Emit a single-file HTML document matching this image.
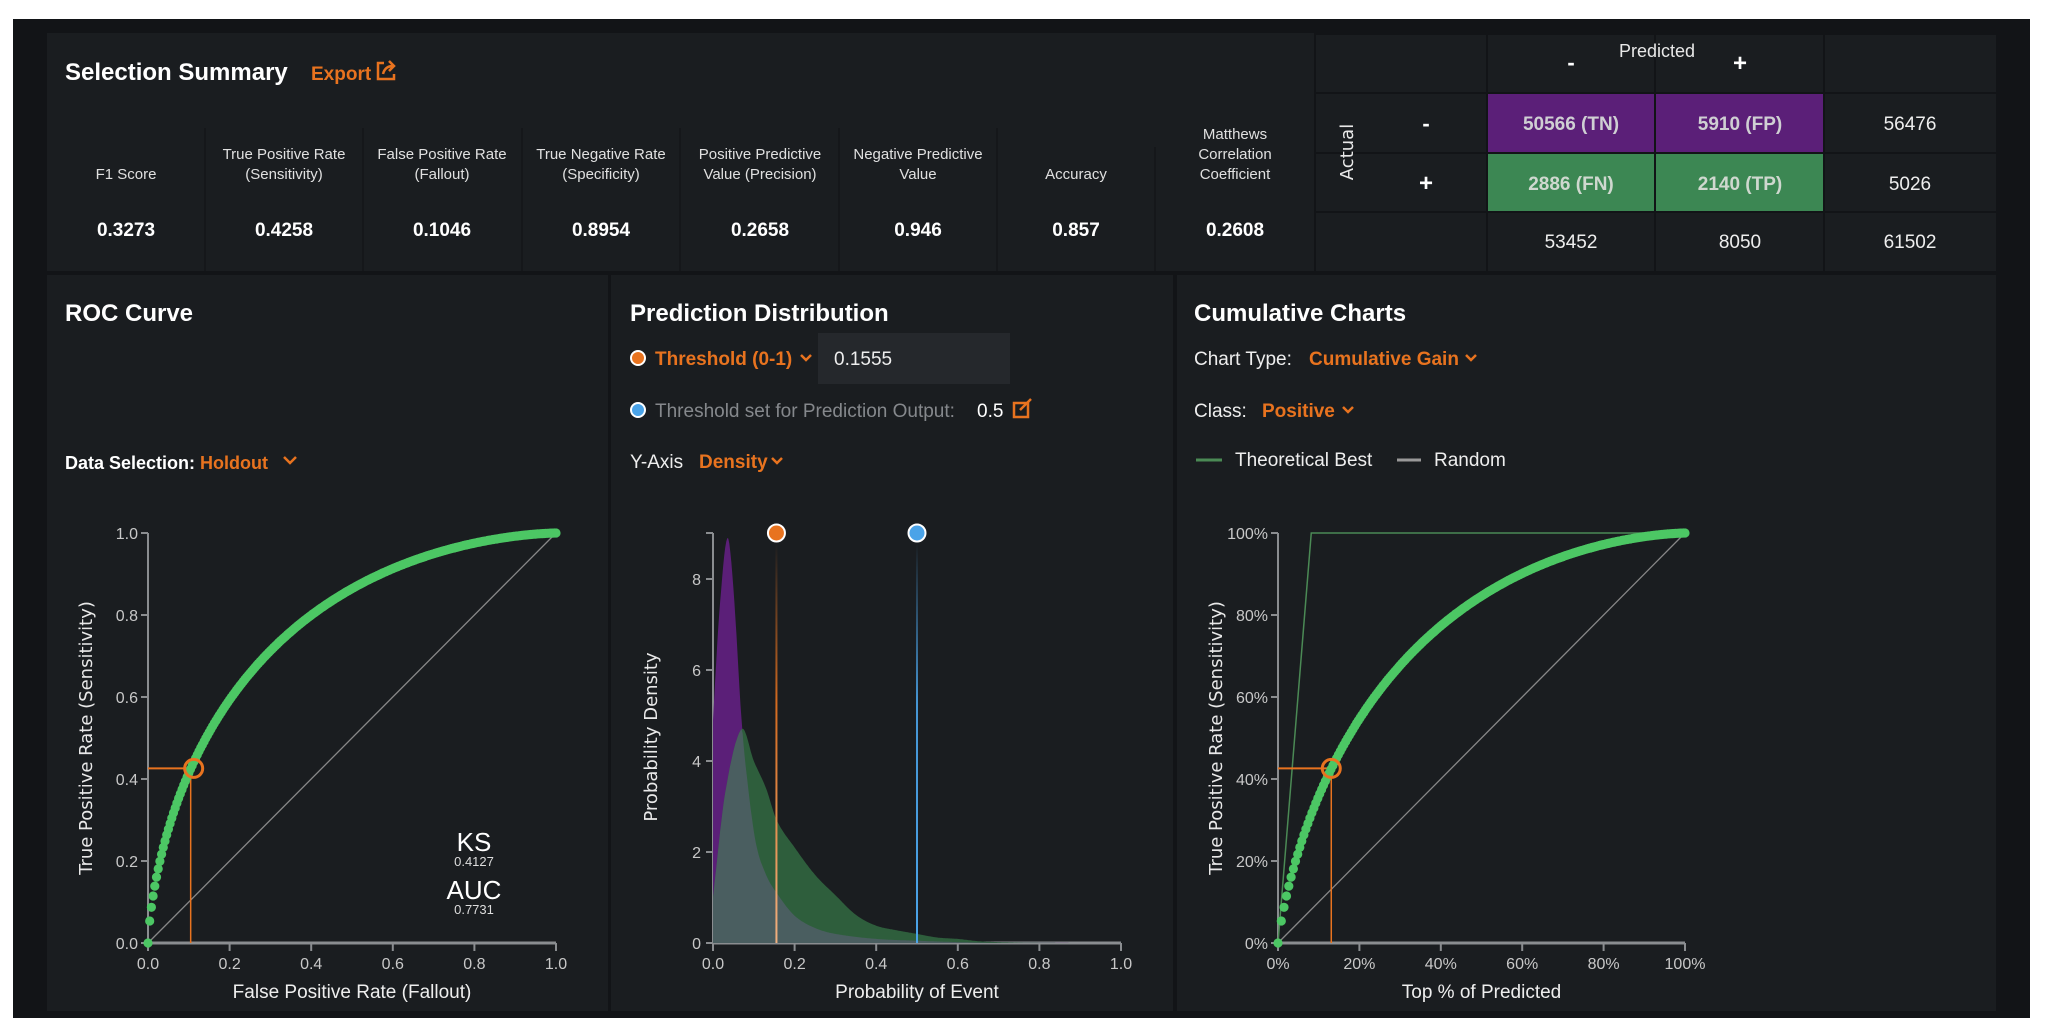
<!DOCTYPE html>
<html><head><meta charset="utf-8"><style>
html,body{margin:0;padding:0;background:#fff;}
svg{display:block;font-family:"Liberation Sans",sans-serif;}
</style></head><body>
<svg id="s" width="2048" height="1036" xmlns="http://www.w3.org/2000/svg">
<defs>
<linearGradient id="go" x1="0" y1="0" x2="0" y2="1"><stop offset="0" stop-color="#e8731f" stop-opacity="0"/><stop offset="0.4" stop-color="#e8731f" stop-opacity="0.9"/><stop offset="1" stop-color="#f0b080"/></linearGradient>
<linearGradient id="gb" x1="0" y1="0" x2="0" y2="1"><stop offset="0" stop-color="#4aa3e8" stop-opacity="0"/><stop offset="0.4" stop-color="#4aa3e8" stop-opacity="0.9"/><stop offset="1" stop-color="#4aa3e8"/></linearGradient>
</defs>
<rect x="0" y="0" width="2048" height="1036" fill="#fff"/>
<rect x="13" y="19" width="2017" height="999" fill="#121417"/>
<rect x="47" y="33" width="1267" height="238" fill="#1a1d20"/>
<rect x="1316" y="35" width="680" height="236" fill="#1a1d20"/>
<rect x="47" y="275" width="561" height="736" fill="#1a1d20"/>
<rect x="611" y="275" width="562" height="736" fill="#1a1d20"/>
<rect x="1177" y="275" width="819" height="736" fill="#1a1d20"/>

<text x="65" y="80" font-size="24" font-weight="bold" fill="#fff">Selection Summary</text>
<text x="311" y="80" font-size="19" font-weight="bold" fill="#e8731f">Export</text>
<g fill="none" stroke="#e8731f" stroke-width="2.5"><path d="M384 63 h-6 v16 h16 v-5"/><path d="M383 74 q2 -8 10 -8 M389 61 l5 5 l-5 5"/></g>

<g stroke="#15171a" stroke-width="2">
<line x1="205" y1="128" x2="205" y2="271"/><line x1="363" y1="128" x2="363" y2="271"/><line x1="522" y1="128" x2="522" y2="271"/><line x1="680" y1="128" x2="680" y2="271"/><line x1="839" y1="128" x2="839" y2="271"/><line x1="997" y1="128" x2="997" y2="271"/><line x1="1155" y1="147" x2="1155" y2="271"/>
</g>
<g font-size="15" fill="#e0e0e0" text-anchor="middle">
<text x="126" y="179">F1 Score</text>
<text x="284" y="159">True Positive Rate</text><text x="284" y="179">(Sensitivity)</text>
<text x="442" y="159">False Positive Rate</text><text x="442" y="179">(Fallout)</text>
<text x="601" y="159">True Negative Rate</text><text x="601" y="179">(Specificity)</text>
<text x="760" y="159">Positive Predictive</text><text x="760" y="179">Value (Precision)</text>
<text x="918" y="159">Negative Predictive</text><text x="918" y="179">Value</text>
<text x="1076" y="179">Accuracy</text>
<text x="1235" y="139">Matthews</text><text x="1235" y="159">Correlation</text><text x="1235" y="179">Coefficient</text>
</g>
<g font-size="19" font-weight="bold" fill="#fff" text-anchor="middle">
<text x="126" y="236">0.3273</text><text x="284" y="236">0.4258</text><text x="442" y="236">0.1046</text><text x="601" y="236">0.8954</text><text x="760" y="236">0.2658</text><text x="918" y="236">0.946</text><text x="1076" y="236">0.857</text><text x="1235" y="236">0.2608</text>
</g>

<rect x="1487" y="93" width="337" height="60" fill="#5b1f78"/>
<rect x="1487" y="153" width="337" height="59" fill="#3c8753"/>
<g stroke="#121417" stroke-width="2">
<line x1="1316" y1="93" x2="1996" y2="93"/><line x1="1316" y1="153" x2="1996" y2="153"/><line x1="1316" y1="212" x2="1996" y2="212"/>
<line x1="1487" y1="35" x2="1487" y2="271"/><line x1="1655" y1="35" x2="1655" y2="271"/><line x1="1824" y1="35" x2="1824" y2="271"/>
</g>
<text x="1657" y="57" font-size="18" fill="#e8e8e8" text-anchor="middle">Predicted</text>
<text x="1571" y="70" font-size="22" font-weight="bold" fill="#fff" text-anchor="middle">-</text>
<text x="1740" y="71" font-size="24" font-weight="bold" fill="#fff" text-anchor="middle">+</text>
<text transform="translate(1353,152) rotate(-90)" font-family="DejaVu Sans,sans-serif" font-size="18" fill="#e8e8e8" text-anchor="middle">Actual</text>
<text x="1426" y="131" font-size="22" font-weight="bold" fill="#fff" text-anchor="middle">-</text>
<text x="1426" y="191" font-size="24" font-weight="bold" fill="#fff" text-anchor="middle">+</text>
<g font-size="19" text-anchor="middle">
<text x="1571" y="130" font-weight="bold" fill="#cfcfd3">50566 (TN)</text>
<text x="1740" y="130" font-weight="bold" fill="#cfcfd3">5910 (FP)</text>
<text x="1571" y="190" font-weight="bold" fill="#cfd8cf">2886 (FN)</text>
<text x="1740" y="190" font-weight="bold" fill="#cfd8cf">2140 (TP)</text>
<text x="1910" y="130" fill="#eee">56476</text><text x="1910" y="190" fill="#eee">5026</text>
<text x="1571" y="248" fill="#eee">53452</text><text x="1740" y="248" fill="#eee">8050</text><text x="1910" y="248" fill="#eee">61502</text>
</g>

<text x="65" y="321" font-size="24" font-weight="bold" fill="#fff">ROC Curve</text>
<text x="65" y="469" font-size="18" font-weight="bold" fill="#fff">Data Selection: <tspan fill="#e8731f">Holdout</tspan></text>
<path d="M284 457 l6 6 l6 -6" fill="none" stroke="#e8731f" stroke-width="2.5"/>

<text x="630" y="321" font-size="24" font-weight="bold" fill="#fff">Prediction Distribution</text>
<circle cx="638" cy="358" r="7" fill="#e8731f" stroke="#fff" stroke-width="2"/>
<text x="655" y="365" font-size="19" font-weight="bold" fill="#e8731f">Threshold (0-1)</text>
<path d="M801 355 l5 5 l5 -5" fill="none" stroke="#e8731f" stroke-width="2.5"/>
<rect x="818" y="333" width="192" height="51" fill="#25282c"/>
<text x="834" y="365" font-size="19" fill="#eee">0.1555</text>
<circle cx="638" cy="410" r="7" fill="#4aa3e8" stroke="#fff" stroke-width="2"/>
<text x="655" y="417" font-size="19" fill="#85888c">Threshold set for Prediction Output:</text>
<text x="977" y="417" font-size="19" fill="#fff">0.5</text>
<g fill="none" stroke="#e8731f" stroke-width="2.5"><rect x="1014" y="403" width="14" height="14"/><path d="M1020 410 l11 -11"/></g>
<text x="630" y="468" font-size="19" fill="#eee">Y-Axis</text>
<text x="699" y="468" font-size="19" font-weight="bold" fill="#e8731f">Density</text>
<path d="M772 458 l5 5 l5 -5" fill="none" stroke="#e8731f" stroke-width="2.5"/>

<text x="1194" y="321" font-size="24" font-weight="bold" fill="#fff">Cumulative Charts</text>
<text x="1194" y="365" font-size="19" fill="#eee">Chart Type:</text>
<text x="1309" y="365" font-size="19" font-weight="bold" fill="#e8731f">Cumulative Gain</text>
<path d="M1466 355 l5 5 l5 -5" fill="none" stroke="#e8731f" stroke-width="2.5"/>
<text x="1194" y="417" font-size="19" fill="#eee">Class:</text>
<text x="1262" y="417" font-size="19" font-weight="bold" fill="#e8731f">Positive</text>
<path d="M1343 407 l5 5 l5 -5" fill="none" stroke="#e8731f" stroke-width="2.5"/>
<line x1="1196" y1="460" x2="1222" y2="460" stroke="#4b8a55" stroke-width="3"/>
<text x="1235" y="466" font-size="19" fill="#eee">Theoretical Best</text>
<line x1="1397" y1="460" x2="1421" y2="460" stroke="#999" stroke-width="3"/>
<text x="1434" y="466" font-size="19" fill="#eee">Random</text>

<g id="charts"></g>
</svg>
<script>
(function(){
var NS="http://www.w3.org/2000/svg",g=document.getElementById("charts");
function el(t,a,txt){var e=document.createElementNS(NS,t);for(var k in a)e.setAttribute(k,a[k]);if(txt!=null)e.textContent=txt;g.appendChild(e);return e;}
function interp(pts,x){for(var i=0;i<pts.length-1;i++){if(x<=pts[i+1][0]){var a=pts[i],b=pts[i+1],t=(x-a[0])/(b[0]-a[0]);
 var p0=pts[Math.max(0,i-1)],p3=pts[Math.min(pts.length-1,i+2)];
 var m1=(b[1]-p0[1])/(b[0]-p0[0]||1)*(b[0]-a[0]),m2=(p3[1]-a[1])/(p3[0]-a[0]||1)*(b[0]-a[0]);
 var t2=t*t,t3=t2*t;return (2*t3-3*t2+1)*a[1]+(t3-2*t2+t)*m1+(-2*t3+3*t2)*b[1]+(t3-t2)*m2;}}return pts[pts.length-1][1];}
function erf(x){var s=x<0?-1:1;x=Math.abs(x);var t=1/(1+0.3275911*x);var y=1-(((((1.061405429*t-1.453152027)*t)+1.421413741)*t-0.284496736)*t+0.254829592)*t*Math.exp(-x*x);return s*y;}
function Phi(z){return 0.5*(1+erf(z/Math.SQRT2));}
function Pinv(p){var lo=-8,hi=8;for(var i=0;i<60;i++){var m=(lo+hi)/2;if(Phi(m)<p)lo=m;else hi=m;}return (lo+hi)/2;}
function rocf(f){if(f<=0)return 0;if(f>=1)return 1;return Phi(1.10+1.027*Pinv(f));}
var Y0=943,Y1=533,H=Y0-Y1;
function axes(x0,x1,lab,fmt,yfmt,ylab){
 el("line",{x1:x0,y1:Y1,x2:x0,y2:Y0,stroke:"#8a8d90","stroke-width":2});
 el("line",{x1:x0,y1:Y0,x2:x1,y2:Y0,stroke:"#8a8d90","stroke-width":3});
 for(var i=0;i<=5;i++){var v=i/5,x=x0+(x1-x0)*v,y=Y0-H*v;
  el("line",{x1:x,y1:Y0,x2:x,y2:Y0+8,stroke:"#8a8d90","stroke-width":2});
  el("text",{x:x,y:Y0+26,"font-size":16,fill:"#c8c8c8","text-anchor":"middle"},fmt(v));
  el("line",{x1:x0-7,y1:y,x2:x0,y2:y,stroke:"#8a8d90","stroke-width":2});
  el("text",{x:x0-10,y:y+6,"font-size":16,fill:"#c8c8c8","text-anchor":"end"},yfmt(v));}
 el("text",{x:(x0+x1)/2,y:Y0+55,"font-size":19,fill:"#eee","text-anchor":"middle"},lab);
 el("text",{transform:"translate("+(x0-56)+","+((Y0+Y1)/2)+") rotate(-90)","font-family":"DejaVu Sans,sans-serif","font-size":18,fill:"#e8e8e8","text-anchor":"middle"},ylab);
}
function dots(mapx,x0,x1){for(var i=0;i<=240;i++){var f=i/240,t=rocf(f);var px=x0+(x1-x0)*mapx(f,t),py=Y0-H*t;
 el("circle",{cx:px.toFixed(1),cy:py.toFixed(1),r:4.6,fill:"#4cc764"});}}
var rx0=148,rx1=556;
axes(rx0,rx1,"False Positive Rate (Fallout)",function(v){return v.toFixed(1)},function(v){return v.toFixed(1)},"True Positive Rate (Sensitivity)");
el("line",{x1:rx0,y1:Y0,x2:rx1,y2:Y1,stroke:"#888","stroke-width":1.3});
var tx=rx0+(rx1-rx0)*0.1046,ty=Y0-H*0.4258;
el("line",{x1:tx,y1:ty,x2:tx,y2:Y0,stroke:"#e8731f","stroke-width":1.5});
el("line",{x1:rx0,y1:ty,x2:tx,y2:ty,stroke:"#e8731f","stroke-width":2});
dots(function(f,t){return f},rx0,rx1);
el("circle",{cx:tx+3,cy:ty,r:9,fill:"none",stroke:"#e8731f","stroke-width":3});
el("text",{x:474,y:851,"font-size":26,fill:"#fff","text-anchor":"middle"},"KS");
el("text",{x:474,y:866,"font-size":13,fill:"#ddd","text-anchor":"middle"},"0.4127");
el("text",{x:474,y:899,"font-size":26,fill:"#fff","text-anchor":"middle"},"AUC");
el("text",{x:474,y:914,"font-size":13,fill:"#ddd","text-anchor":"middle"},"0.7731");
var dx0=713,dx1=1121,DS=45.5;
el("line",{x1:dx0,y1:Y1,x2:dx0,y2:Y0,stroke:"#8a8d90","stroke-width":2});
el("line",{x1:dx0-7,y1:Y1,x2:dx0,y2:Y1,stroke:"#8a8d90","stroke-width":2});
el("line",{x1:dx0,y1:Y0,x2:dx1,y2:Y0,stroke:"#8a8d90","stroke-width":3});
for(var i=0;i<=5;i++){var x=dx0+(dx1-dx0)*i/5;el("line",{x1:x,y1:Y0,x2:x,y2:Y0+8,stroke:"#8a8d90","stroke-width":2});
 el("text",{x:x,y:Y0+26,"font-size":16,fill:"#c8c8c8","text-anchor":"middle"},(i/5).toFixed(1));}
for(var v=0;v<=8;v+=2){var y=Y0-DS*v;el("line",{x1:dx0-7,y1:y,x2:dx0,y2:y,stroke:"#8a8d90","stroke-width":2});
 el("text",{x:dx0-12,y:y+6,"font-size":16,fill:"#c8c8c8","text-anchor":"end"},v);}
el("text",{x:(dx0+dx1)/2,y:Y0+55,"font-size":19,fill:"#eee","text-anchor":"middle"},"Probability of Event");
el("text",{transform:"translate(657,737) rotate(-90)","font-family":"DejaVu Sans,sans-serif","font-size":18,fill:"#e8e8e8","text-anchor":"middle"},"Probability Density");
var pur=[[0,4.9],[0.015,7.2],[0.035,8.9],[0.05,7.8],[0.07,4.9],[0.085,3.5],[0.105,2.2],[0.13,1.5],[0.156,1.1],[0.2,0.6],[0.25,0.33],[0.3,0.2],[0.4,0.09],[0.5,0.05],[0.6,0.02],[0.7,0.005],[1,0]];
var grn=[[0,1.0],[0.03,3.3],[0.07,4.7],[0.1,4.0],[0.13,3.4],[0.156,2.7],[0.2,2.1],[0.25,1.5],[0.3,1.05],[0.35,0.62],[0.4,0.38],[0.45,0.28],[0.5,0.2],[0.55,0.12],[0.6,0.09],[0.65,0.04],[0.7,0.02],[0.8,0.003],[1,0]];
function area(fn,col){var d="M"+dx0+" "+Y0;for(var i=0;i<=400;i++){var x=i/400;var v=Math.max(0,fn(x));d+=" L"+(dx0+(dx1-dx0)*x).toFixed(1)+" "+(Y0-DS*v).toFixed(1);}d+=" L"+dx1+" "+Y0+"Z";el("path",{d:d,fill:col});}
area(function(x){return interp(pur,x)},"#5b1f78");
area(function(x){return interp(grn,x)},"#2e5e3c");
area(function(x){return Math.min(interp(pur,x),interp(grn,x))},"#4a5e60");
var ox=dx0+(dx1-dx0)*0.1555,bx=dx0+(dx1-dx0)*0.5;
el("rect",{x:ox-1,y:Y1+10,width:2,height:H-10,fill:"url(#go)"});
el("rect",{x:bx-1,y:Y1+10,width:2,height:H-10,fill:"url(#gb)"});
el("circle",{cx:ox,cy:Y1,r:8.5,fill:"#e8731f",stroke:"#fff","stroke-width":2});
el("circle",{cx:bx,cy:Y1,r:8.5,fill:"#4aa3e8",stroke:"#fff","stroke-width":2});
var cx0=1278,cx1=1685,pr=5026/61502;
axes(cx0,cx1,"Top % of Predicted",function(v){return Math.round(v*100)+"%"},function(v){return Math.round(v*100)+"%"},"True Positive Rate (Sensitivity)");
el("polyline",{points:cx0+","+Y0+" "+(cx0+(cx1-cx0)*pr)+","+Y1+" "+cx1+","+Y1,fill:"none",stroke:"#4b8a55","stroke-width":1.5});
el("line",{x1:cx0,y1:Y0,x2:cx1,y2:Y1,stroke:"#888","stroke-width":1.3});
var kx=cx0+(cx1-cx0)*(8050/61502);
el("line",{x1:kx,y1:ty,x2:kx,y2:Y0,stroke:"#e8731f","stroke-width":1.5});
el("line",{x1:cx0,y1:ty,x2:kx,y2:ty,stroke:"#e8731f","stroke-width":2});
dots(function(f,t){return pr*t+(1-pr)*f},cx0,cx1);
el("circle",{cx:kx,cy:ty,r:9,fill:"none",stroke:"#e8731f","stroke-width":3});
})();
</script>
</body></html>
